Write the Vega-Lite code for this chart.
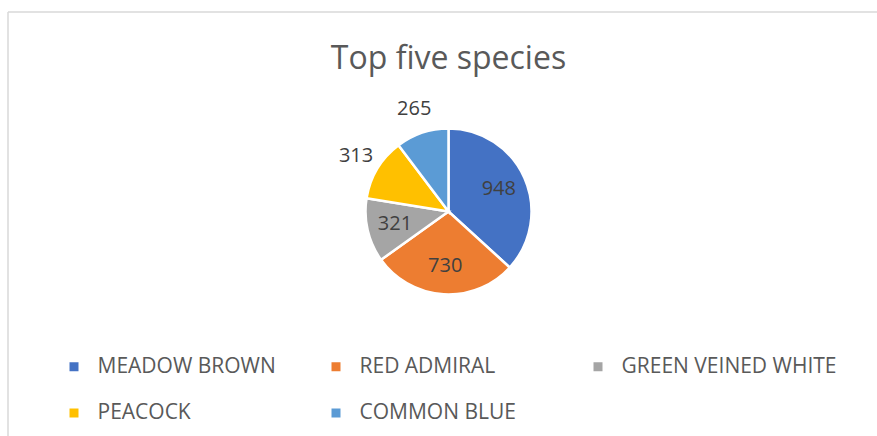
{
  "$schema": "https://vega.github.io/schema/vega-lite/v6.json",
  "autosize": "none",
  "width": 869,
  "height": 424,
  "padding": {"left": 8, "top": 12, "right": 0, "bottom": 0},
  "background": "#ffffff",
  "view": {"stroke": "#d9d9d9", "strokeWidth": 1.5, "strokeDash": [869, 1293, 424, 0]},
  "title": {
    "text": "Top five species",
    "font": "Open Sans",
    "fontSize": 32,
    "fontWeight": 400,
    "color": "#595959",
    "anchor": "middle",
    "frame": "group",
    "baseline": "alphabetic",
    "offset": 0,
    "dx": 6,
    "dy": 89
  },
  "data": {
    "values": [
      {"species": "MEADOW BROWN", "count": 948},
      {"species": "RED ADMIRAL", "count": 730},
      {"species": "GREEN VEINED WHITE", "count": 321},
      {"species": "PEACOCK", "count": 313},
      {"species": "COMMON BLUE", "count": 265}
    ]
  },
  "encoding": {
    "theta": {"field": "count", "type": "quantitative", "stack": true},
    "order": {"field": "count", "type": "quantitative", "sort": "descending"}
  },
  "layer": [
    {
      "mark": {
        "type": "arc",
        "outerRadius": 83,
        "stroke": "#ffffff",
        "strokeWidth": 2.5,
        "xOffset": 6,
        "yOffset": -12.5
      },
      "encoding": {
        "color": {
          "field": "species",
          "type": "nominal",
          "sort": ["MEADOW BROWN", "RED ADMIRAL", "GREEN VEINED WHITE", "PEACOCK", "COMMON BLUE"],
          "scale": {
            "domain": ["MEADOW BROWN", "RED ADMIRAL", "GREEN VEINED WHITE", "PEACOCK", "COMMON BLUE"],
            "range": ["#4472C4", "#ED7D31", "#A5A5A5", "#FFC000", "#5B9BD5"]
          },
          "legend": {
            "title": null,
            "orient": "none",
            "direction": "horizontal",
            "columns": 3,
            "gridAlign": "all",
            "legendX": 55.5,
            "legendY": 344,
            "padding": 0,
            "columnPadding": 12,
            "rowPadding": 24.5,
            "symbolType": "square",
            "symbolSize": 81,
            "symbolStrokeWidth": 0,
            "labelOffset": 13,
            "labelFont": "Open Sans",
            "labelFontSize": 21,
            "labelColor": "#595959",
            "labelLimit": 400
          }
        }
      }
    },
    {
      "mark": {
        "type": "text",
        "font": "Open Sans",
        "fontSize": 20,
        "color": "#404040",
        "xOffset": 6,
        "yOffset": -12.5,
        "radius": {"expr": "datum.count > 320 ? 55 : 108"}
      },
      "encoding": {
        "text": {"field": "count", "type": "quantitative"}
      }
    }
  ]
}
